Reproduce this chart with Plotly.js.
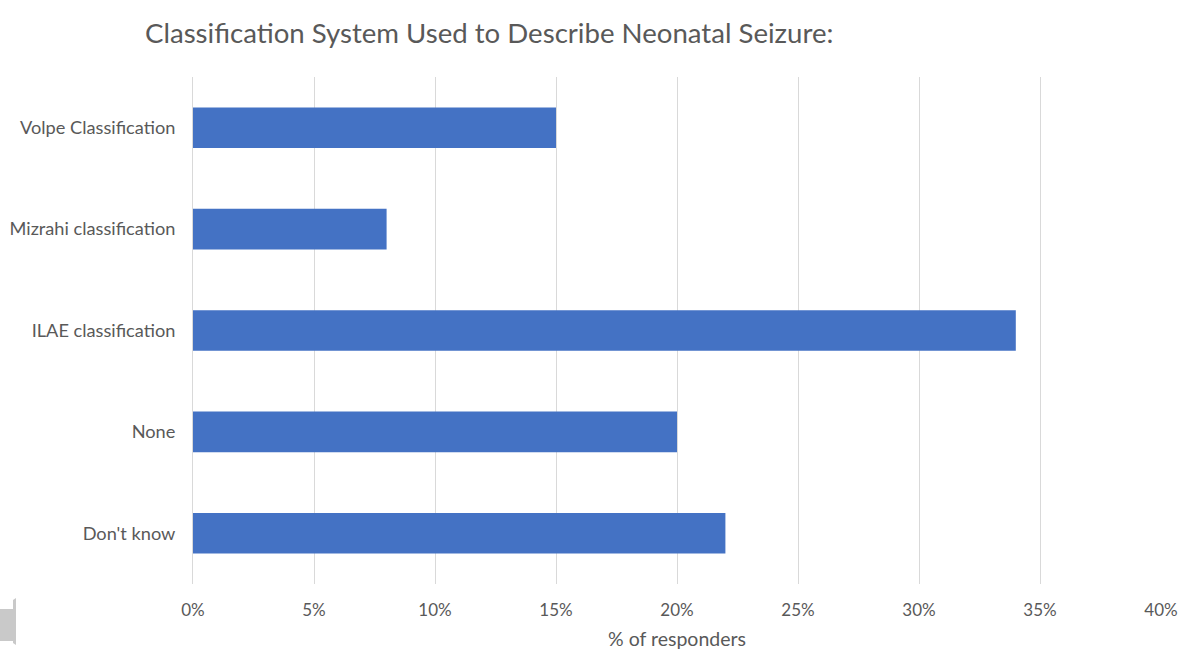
<!DOCTYPE html>
<html>
<head>
<meta charset="utf-8">
<script src="https://cdn.plot.ly/plotly-3.0.1.min.js"></script>
<style>
  html, body { margin: 0; padding: 0; background: #ffffff; }
  #chart { width: 1182px; height: 655px; }
</style>
</head>
<body>
<div id="chart"></div>
<script>
// Survey answers, listed bottom-to-top as the axis draws them
const categories = ["Don't know", "None", "ILAE classification", "Mizrahi classification", "Volpe Classification"];
const percentResponders = [22, 20, 34, 8, 15];
const tickValues = [0, 5, 10, 15, 20, 25, 30, 35, 40];
const tickLabels = ["0%", "5%", "10%", "15%", "20%", "25%", "30%", "35%", "40%"];

const textGray = "#595959";
const fontFamily = "Lato, 'Open Sans', sans-serif";

const trace = {
  type: "bar",
  orientation: "h",
  y: categories,
  x: percentResponders,
  marker: { color: "#4472c4" },
  width: 0.4,
  hoverinfo: "x+y"
};

const plotLeft = 193, plotRight = 21, plotTop = 77, plotBottom = 71;

const layout = {
  width: 1182,
  height: 655,
  margin: { l: plotLeft, r: plotRight, t: plotTop, b: plotBottom },
  paper_bgcolor: "#ffffff",
  plot_bgcolor: "#ffffff",
  showlegend: false,
  font: { family: fontFamily, color: textGray },
  title: {
    text: "Classification System Used to Describe Neonatal Seizure:",
    font: { family: fontFamily, size: 27.6, color: textGray },
    x: 145 / 1182,
    xanchor: "left",
    y: 1 - 33 / 655,
    yanchor: "middle"
  },
  xaxis: {
    range: [0, 40],
    tickvals: tickValues,
    ticktext: tickLabels,
    tickfont: { size: 17, color: textGray },
    showgrid: true,
    gridcolor: "#d9d9d9",
    gridwidth: 1,
    zeroline: false,
    showline: false,
    ticks: "",
    ticklabelstandoff: 14,
    fixedrange: true,
    title: {
      text: "% of responders",
      font: { size: 19.5, color: textGray },
      standoff: 13
    }
  },
  yaxis: {
    range: [-0.5, 4.5],
    tickfont: { size: 18.2, color: textGray },
    showgrid: false,
    zeroline: false,
    showline: true,
    linecolor: "#d9d9d9",
    linewidth: 1,
    ticks: "",
    ticklabelstandoff: 13,
    fixedrange: true
  }
};

// Small gray speaker-like glyph at the lower left edge, placed in pixel terms
(function addGlyph() {
  const plotW = 1182 - plotLeft - plotRight;
  const plotH = 655 - plotTop - plotBottom;
  const px = (x) => ((x - plotLeft) / plotW).toFixed(5);
  const py = (y) => ((655 - plotBottom - y) / plotH).toFixed(5);
  layout.shapes = [
    {
      type: "path",
      xref: "paper",
      yref: "paper",
      path: `M ${px(0)},${py(609)} L ${px(13)},${py(609)} L ${px(13)},${py(600)} L ${px(16)},${py(598)} L ${px(16)},${py(645)} L ${px(13)},${py(643)} L ${px(13)},${py(641)} L ${px(0)},${py(641)} Z`,
      fillcolor: "#c9c9c9",
      line: { width: 0 }
    }
  ];
})();

Plotly.newPlot("chart", [trace], layout, { displayModeBar: false, staticPlot: true });
</script>
</body>
</html>
